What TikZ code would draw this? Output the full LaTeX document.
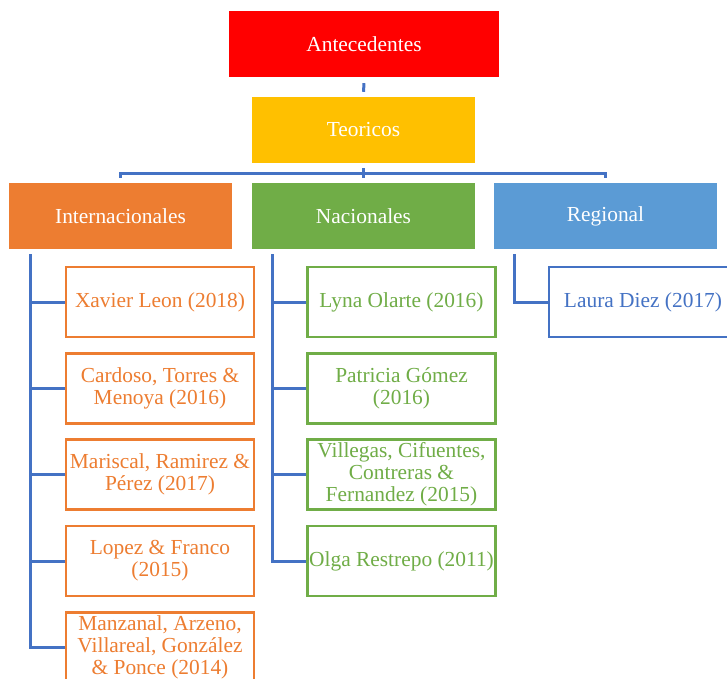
\documentclass[tikz,border=0pt]{standalone}
\usepackage{fontspec}
\setmainfont{Liberation Serif}
\definecolor{cred}{HTML}{FF0000}
\definecolor{cyel}{HTML}{FFC000}
\definecolor{cora}{HTML}{ED7D31}
\definecolor{cgre}{HTML}{70AD47}
\definecolor{cblu}{HTML}{5B9BD5}
\definecolor{cline}{HTML}{4472C4}
\tikzset{
  topbox/.style={draw=none, minimum height=66bp, inner sep=0pt, text=white,
    font=\fontsize{21.4bp}{22bp}\selectfont},
  kidbox/.style={draw=#1, fill=white, line width=2.2bp, minimum width=188bp,
    minimum height=70bp, inner sep=0pt, text=#1, align=center,
    font=\fontsize{21.4bp}{22bp}\selectfont},
  conn/.style={draw=cline, line width=3bp}
}
\begin{document}
\begin{tikzpicture}[x=1bp,y=-1bp]
\useasboundingbox (0,0) rectangle (727,679);
\begin{scope}
\clip (0,0) rectangle (727,679);
% top levels
\node[topbox, fill=cred, minimum width=270bp] (ant) at (364,44) {Antecedentes};
\node[topbox, fill=cyel, minimum width=223bp] (teo) at (363.5,130) {Teoricos};
\node[topbox, fill=cora, minimum width=223bp] (int) at (120.5,216) {Internacionales};
\node[topbox, fill=cgre, minimum width=223bp] (nac) at (363.5,216) {Nacionales};
\node[topbox, fill=cblu, minimum width=223bp] (reg) at (605.5,216) {Regional};
% internacionales children
\node[kidbox=cora] (i1) at (160,302) {Xavier Leon (2018)};
\node[kidbox=cora] (i2) at (160,388.5) {Cardoso, Torres \&\\Menoya (2016)};
\node[kidbox=cora] (i3) at (160,474.5) {Mariscal, Ramirez \&\\Pérez (2017)};
\node[kidbox=cora] (i4) at (160,561) {Lopez \& Franco\\(2015)};
\node[kidbox=cora] (i5) at (160,647.5) {Manzanal, Arzeno,\\Villareal, González\\\& Ponce (2014)};
% nacionales children
\node[kidbox=cgre] (n1) at (401.5,302) {Lyna Olarte (2016)};
\node[kidbox=cgre] (n2) at (401.5,388.5) {Patricia Gómez\\(2016)};
\node[kidbox=cgre] (n3) at (401.5,474.5) {Villegas, Cifuentes,\\Contreras \&\\Fernandez (2015)};
\node[kidbox=cgre] (n4) at (401.5,561) {Olga Restrepo (2011)};
% regional child
\node[kidbox=cline] (r1) at (643,302) {Laura Diez (2017)};
% connectors top
\draw[conn] ([yshift=-6bp]ant.south) -- ([yshift=5bp]teo.north);
\coordinate (bus) at (363.5,173);
\draw[conn] ([yshift=-5bp]teo.south) -- ([yshift=5bp]nac.north);
\draw[conn] ([yshift=5bp]int.north) |- (bus) -| ([yshift=5bp]reg.north);
% internacionales trunk
\coordinate (itr) at ([xshift=22bp,yshift=-5bp]int.south west);
\draw[conn] (itr) |- (i5.west);
\foreach \k in {i1,i2,i3,i4} \draw[conn] (\k.west) -- (\k.west -| itr);
% nacionales trunk
\coordinate (ntr) at ([xshift=21bp,yshift=-5bp]nac.south west);
\draw[conn] (ntr) |- (n4.west);
\foreach \k in {n1,n2,n3} \draw[conn] (\k.west) -- (\k.west -| ntr);
% regional trunk
\coordinate (rtr) at ([xshift=21bp,yshift=-5bp]reg.south west);
\draw[conn] (rtr) |- (r1.west);
\end{scope}
\end{tikzpicture}
\end{document}
